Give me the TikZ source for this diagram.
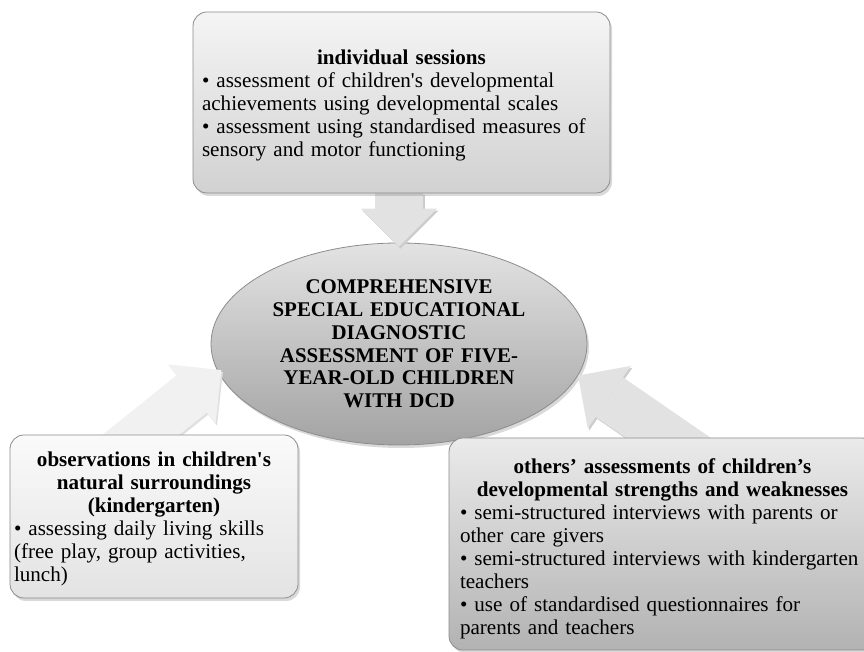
\documentclass[tikz,border=0pt]{standalone}
\usepackage{fontspec}
\setmainfont{Liberation Serif}
\usetikzlibrary{shapes.geometric,shadows,arrows.meta}
\pgfdeclarelayer{back}
\pgfdeclarelayer{feed}
\pgfsetlayers{back,feed,main}
\definecolor{rim}{HTML}{8C8C8C}
\definecolor{feedgray}{HTML}{E2E2E2}
\definecolor{feedpale}{HTML}{F1F1F1}
\newcommand{\panelfont}{\fontsize{21.1}{23}\selectfont\hyphenpenalty=10000\relax}
\newcommand{\paneltitle}[2][0pt]{\makebox[\hsize]{\rule{0pt}{#1}\textbf{#2}}}
\begin{document}
\begin{tikzpicture}[
    x=1pt, y=1pt,
    panel/.style={rectangle, rounded corners=14pt, draw=rim, line width=0.8pt, align=left,
        inner ysep=4pt, font=\panelfont,
        drop shadow={shadow xshift=2pt, shadow yshift=-3pt, opacity=0.3}},
    hub/.style={ellipse, draw=rim, line width=0.8pt, top color=black!11, bottom color=black!36,
        minimum width=376pt, minimum height=202pt, inner sep=0pt, text width=262pt, align=center,
        font=\fontsize{20.9}{22.8}\selectfont\bfseries,
        drop shadow={shadow xshift=2pt, shadow yshift=-3pt, opacity=0.3}},
    feed/.style={line width=48pt, draw=feedgray,
        -{Triangle[length=38pt, width=76pt, line width=0pt]}},
    feedshade/.style={feed, draw=black!20, transform canvas={shift={(1.5pt,-2pt)}}}
]
\useasboundingbox (0,0) rectangle (864,652);

\begin{pgfonlayer}{back}
\node[hub] (centre) at (399,308) {COMPREHENSIVE\\ SPECIAL EDUCATIONAL\\ DIAGNOSTIC\\
    ASSESSMENT OF FIVE-\\ YEAR-OLD CHILDREN\\ WITH DCD};
\end{pgfonlayer}

\node[panel, top color=black!4, bottom color=black!18, text width=399pt, inner xsep=9pt,
    minimum height=181pt] (sessions) at (401.5,549.5) {%
    \paneltitle[21pt]{individual sessions}\\
    \textbullet{} assessment of children\textquotesingle s developmental\\
    achievements using developmental scales\\
    \textbullet{} assessment using standardised measures of\\
    sensory and motor functioning};

\node[panel, top color=black!2, bottom color=black!11, text width=280pt, inner xsep=4pt,
    minimum height=163pt] (observe) at (154,135.5) {%
    \paneltitle[20.5pt]{observations in children\textquotesingle s}\\
    \paneltitle{natural surroundings}\\
    \paneltitle{(kindergarten)}\\
    \textbullet{} assessing daily living skills\\
    (free play, group activities,\\
    lunch)};

\node[panel, top color=black!8, bottom color=black!30, text width=405pt, inner xsep=11pt,
    minimum height=212pt] (others) at (662.5,108) {%
    \paneltitle[24.5pt]{others’ assessments of children’s}\\
    \paneltitle{developmental strengths and weaknesses}\\
    \textbullet{} semi-structured interviews with parents or\\
    other care givers\\
    \textbullet{} semi-structured interviews with kindergarten\\
    teachers\\
    \textbullet{} use of standardised questionnaires for\\
    parents and teachers};

\coordinate (tailL) at (100.8,185.1);
\coordinate (tailR) at (708.8,186.4);

\begin{pgfonlayer}{feed}
\draw[feedshade, shorten >=-4pt] (centre.north |- sessions.south) -- (centre.north);
\draw[feed, shorten >=-4pt] (centre.north |- sessions.south) -- (centre.north);
\draw[feedshade, draw=black!12, shorten >=-4pt] (tailL) -- (centre.189);
\draw[feed, draw=feedpale, shorten >=-4pt] (tailL) -- (centre.189);
\draw[feedshade] (tailR) -- (centre.350);
\draw[feed] (tailR) -- (centre.350);
\end{pgfonlayer}
\end{tikzpicture}
\end{document}
